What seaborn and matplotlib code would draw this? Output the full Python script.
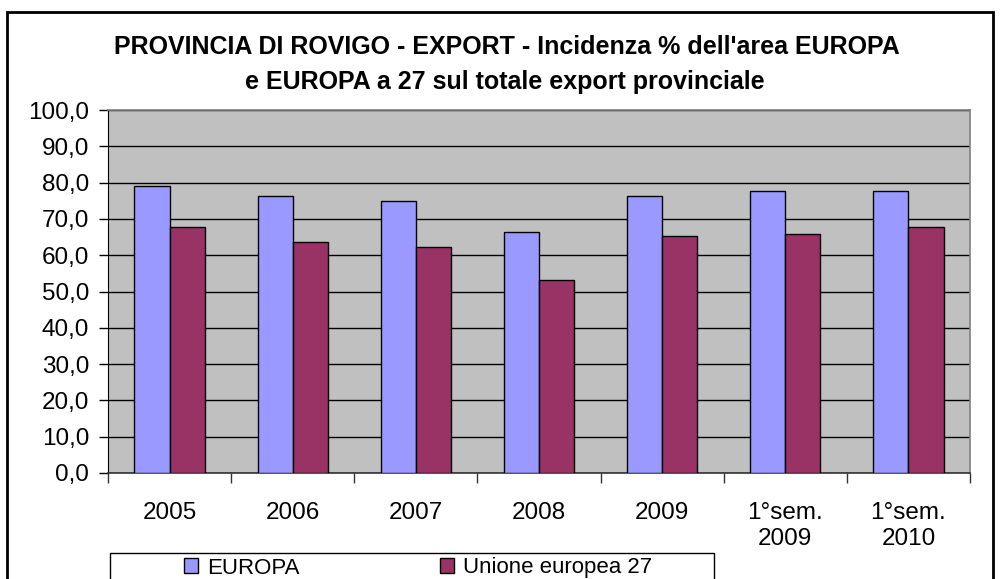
#!/usr/bin/env python3
"""
Rovigo export: share of EUROPA and EU27 on total provincial export.
"""

import pandas as pd
import matplotlib.pyplot as plt
import seaborn as sns
from matplotlib.patches import Rectangle
from matplotlib.ticker import FixedLocator, FuncFormatter

periods = ["2005", "2006", "2007", "2008", "2009", "1°sem.\n2009", "1°sem.\n2010"]
europa = [79.0, 76.2, 74.9, 66.4, 76.2, 77.6, 77.6]
ue27 = [67.7, 63.6, 62.2, 53.2, 65.4, 65.9, 67.7]
series = ["EUROPA", "Unione europea 27"]
colors = ["#9999FF", "#993366"]

df = pd.DataFrame({
    "Periodo": periods * 2,
    "Valore": europa + ue27,
    "Serie": [series[0]] * len(periods) + [series[1]] * len(periods),
})

sns.set_style("white", {"text.color": "black", "xtick.color": "black", "ytick.color": "black"})
plt.rcParams["font.family"] = ["Liberation Sans", "DejaVu Sans"]

fig = plt.figure(figsize=(10, 5.79), dpi=100)
ax = fig.add_axes([0.108, 1 - 473 / 579, 0.862, (473 - 110) / 579])

sns.barplot(data=df, x="Periodo", y="Valore", hue="Serie", order=periods,
            hue_order=series, palette=colors, width=0.57, saturation=1,
            edgecolor="black", linewidth=1, legend=False, ax=ax, zorder=3)

ax.set_facecolor("#C0C0C0")
ax.set_ylim(0, 100)
ax.set_xlim(-0.5, len(periods) - 0.5)
ax.set_yticks(range(0, 101, 10))
ax.yaxis.set_major_formatter(FuncFormatter(lambda v, p: f"{v:.1f}".replace(".", ",")))
ax.yaxis.grid(True, color="black", linewidth=1)
ax.set_axisbelow(True)
ax.set_xlabel("")
ax.set_ylabel("")

# ticks between categories, labels at centre
ax.xaxis.set_minor_locator(FixedLocator([i + 0.5 for i in range(-1, len(periods))]))
ax.tick_params(axis="x", which="major", length=0, pad=21, labelsize=17.5, labelcolor="black")
ax.tick_params(axis="x", which="minor", length=7, width=1, color="#333333", direction="out", bottom=True)
ax.tick_params(axis="y", length=6.5, width=1, color="black", direction="out", left=True,
               labelsize=17.5, pad=7, labelcolor="black")
for lab in ax.get_xticklabels():
    lab.set_linespacing(1.25)

for side in ["top", "right"]:
    ax.spines[side].set_color("#808080")
    ax.spines[side].set_linewidth(1.2)
ax.spines["left"].set_color("black")
ax.spines["bottom"].set_color("#333333")
ax.spines["bottom"].set_linewidth(1.2)

fig.text(0.507, 1 - 47 / 579, "PROVINCIA DI ROVIGO - EXPORT - Incidenza % dell'area EUROPA",
         ha="center", va="center", fontsize=18, fontweight="bold", color="black")
fig.text(0.505, 1 - 82 / 579, "e EUROPA a 27 sul totale export provinciale",
         ha="center", va="center", fontsize=18, fontweight="bold", color="black")

# legend
handles = [Rectangle((0, 0), 1, 1, facecolor=c, edgecolor="black", linewidth=1) for c in colors]
leg = fig.legend(handles, series, loc="center", bbox_to_anchor=(0.418, 1 - 568 / 579),
                 ncol=2, frameon=False, fontsize=16, handlelength=0.65, handleheight=0.65,
                 handletextpad=0.4, columnspacing=6.3, borderpad=0.0)
for t in leg.get_texts():
    t.set_color("black")
fig.add_artist(Rectangle((0.110, -0.01), 0.604, 0.01 + 26 / 579, transform=fig.transFigure,
                         fill=False, edgecolor="black", linewidth=1))

# outer chart border
fig.add_artist(Rectangle((0.007, -0.01), 0.986, 0.01 + 1 - 12 / 579, transform=fig.transFigure,
                         fill=False, edgecolor="black", linewidth=2))

fig.savefig("out.png", dpi=100)
plt.close(fig)
